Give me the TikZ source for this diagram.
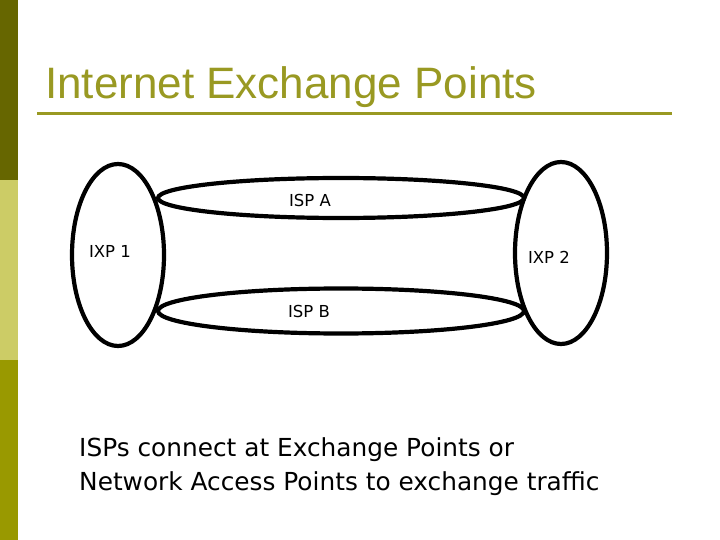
\documentclass[tikz,border=0pt]{standalone}
\usepackage{fontspec}
\setmainfont{DejaVu Sans}
\newfontfamily\titlefont{Liberation Sans}
\usetikzlibrary{shapes.geometric, positioning}

\definecolor{bardark}{RGB}{102,102,0}
\definecolor{barlight}{RGB}{204,204,102}
\definecolor{barmid}{RGB}{153,153,0}
\definecolor{titleolive}{RGB}{153,153,34}

\begin{document}
\begin{tikzpicture}[
        x=1pt, y=-1pt,
        ring/.style={ellipse, draw=black, line width=4.2pt, inner sep=0pt},
        tag/.style={font=\fontsize{16.5}{20}\selectfont, inner sep=0pt},
        body/.style={font=\fontsize{24.8}{34}\selectfont, align=left, anchor=north west, inner sep=0pt}
    ]
    \useasboundingbox (0,0) rectangle (720,540);
    \fill[white] (0,0) rectangle (720,540);

    % Side bar
    \fill[bardark] (0,0) rectangle (18,180);
    \fill[barlight] (0,180) rectangle (18,360);
    \fill[barmid] (0,360) rectangle (18,540);

    % Title and rule
    \node[font=\titlefont\fontsize{44}{50}\selectfont, text=titleolive, anchor=base west, inner sep=0pt] (title) at (45,99) {Internet Exchange Points};
    \coordinate (ruleL) at (37,114);
    \coordinate (ruleR) at (672,114);
    \draw[titleolive, line width=3pt] (ruleL) -- (ruleR);

    % Exchange points
    \node[ring, minimum width=92pt, minimum height=182pt] (ixp1) at (118,255) {};
    \node[ring, minimum width=92pt, minimum height=182pt] (ixp2) at (561,253) {};

    % Providers between them
    \node[ring, minimum width=366pt, minimum height=40pt] (ispA) at (341,198) {};
    \node[ring, minimum width=366pt, minimum height=45pt] (ispB) at (341,311) {};

    % Labels
    \node[tag] (labA) at (310,200) {ISP A};
    \node[tag] (labB) at (309,311) {ISP B};
    \node[tag] (lab1) at (110,251) {IXP 1};
    \node[tag] (lab2) at (549,257) {IXP 2};

    % Caption
    \node[body] (caption) at (79,437) {ISPs connect at Exchange Points or\\Network Access Points to exchange traffic};
\end{tikzpicture}
\end{document}
